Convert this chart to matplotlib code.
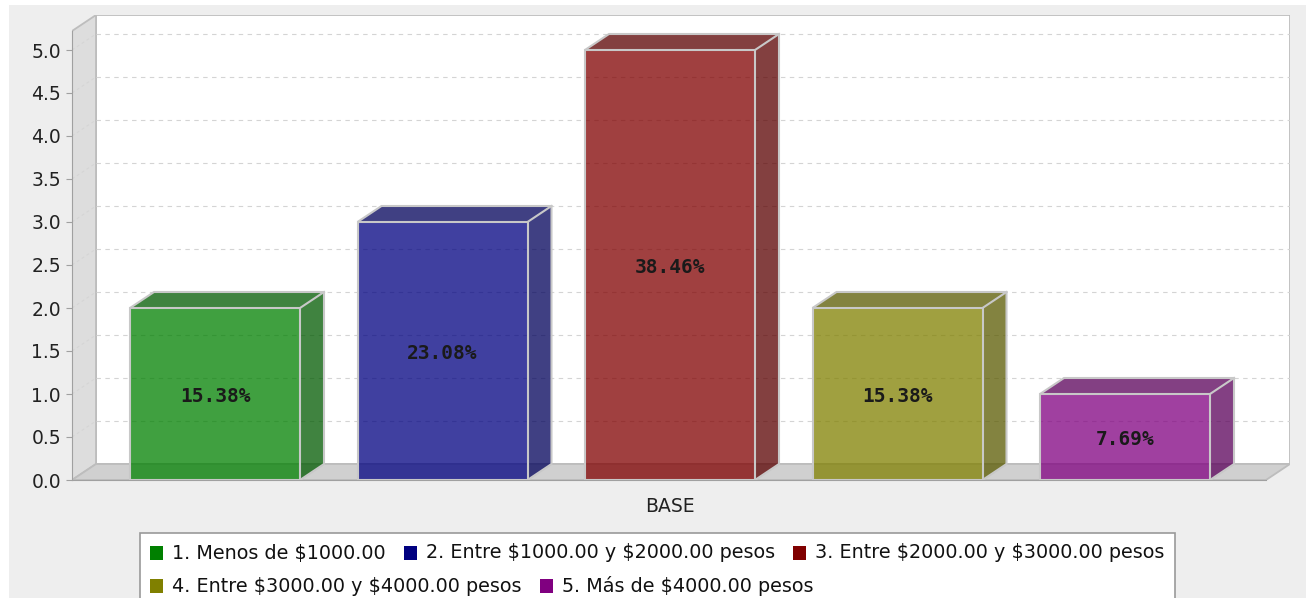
import matplotlib
matplotlib.use("Agg")
import matplotlib.pyplot as plt
from matplotlib.patches import Polygon, Rectangle
from matplotlib.colors import to_rgb

plt.rcParams["text.parse_math"] = False

# Datos del grafico
categoria = "BASE"
series = [
    "1. Menos de $1000.00",
    "2. Entre $1000.00 y $2000.00 pesos",
    "3. Entre $2000.00 y $3000.00 pesos",
    "4. Entre $3000.00 y $4000.00 pesos",
    "5. Más de $4000.00 pesos",
]
valores = [2, 3, 5, 2, 1]
porcentajes = [15.38, 23.08, 38.46, 15.38, 7.69]
colores = ["#008000", "#000080", "#800000", "#808000", "#800080"]
yticks = [0.0, 0.5, 1.0, 1.5, 2.0, 2.5, 3.0, 3.5, 4.0, 4.5, 5.0]

W, H = 1306, 598
fig = plt.figure(figsize=(W / 100, H / 100), dpi=100, facecolor="white")
fig.patches.append(Rectangle((9 / W, 0), 1, (H - 5) / H, transform=fig.transFigure,
                             facecolor="#EEEEEE", edgecolor="none", zorder=-10))

# Ejes: area del grafico en pixeles
left_px, right_px, top_px, bot_px = 72, 1290, 15, 480
ax = fig.add_axes([left_px / W, (H - bot_px) / H, (right_px - left_px) / W, (bot_px - top_px) / H])
ax.set_facecolor("none")

px_x = 227.5   # pixeles por categoria
px_y = 86.0    # pixeles por unidad
x0 = -143 / px_x
x1 = x0 + (right_px - left_px) / px_x
ytop = (bot_px - top_px) / px_y
dx = 24 / px_x
dy = 16 / px_y
ax.set_xlim(x0, x1)
ax.set_ylim(0, ytop)

gris = "#BDBDBD"
# Pared del fondo, pared izquierda y piso
ax.add_patch(Polygon([(x0 + dx, dy), (x0 + dx, ytop), (x1, ytop), (x1, dy)],
                     closed=True, facecolor="white", edgecolor=gris, lw=1.3, zorder=1))
ax.add_patch(Polygon([(x0, 0), (x0 + dx, dy), (x0 + dx, ytop), (x0, ytop - dy)],
                     closed=True, facecolor="#DDDDDD", edgecolor=gris, lw=1.3, zorder=1))
ax.add_patch(Polygon([(x0, 0), (x0 + dx, dy), (x1, dy), (x1 - dx, 0)],
                     closed=True, facecolor="#D0D0D0", edgecolor=gris, lw=1.3, zorder=1))

# Lineas de cuadricula
for v in yticks[1:]:
    ax.plot([x0 + dx, x1], [v + dy, v + dy], color="#D4D4D4", lw=0.8, ls=(0, (4, 4)), zorder=2)
    ax.plot([x0, x0 + dx], [v, v + dy], color="#D4D4D4", lw=0.7, ls=(0, (3, 3)), zorder=2)

# Barras 3D
ancho = 170 / px_x
xs = list(range(len(valores)))
for x, v, c, p in zip(xs, valores, colores, porcentajes):
    r, g, b = to_rgb(c)
    oscuro = (r * 0.7, g * 0.7, b * 0.7)
    ax.bar(x, v, width=ancho, color=c, alpha=0.75, edgecolor="none", zorder=3)
    ax.bar(x, v, width=ancho, color="none", edgecolor="#C8C8C8", lw=1.5, zorder=5)
    xl, xr = x - ancho / 2, x + ancho / 2
    ax.add_patch(Polygon([(xl, v), (xl + dx, v + dy), (xr + dx, v + dy), (xr, v)], closed=True,
                         facecolor=oscuro, alpha=0.75, edgecolor="none", zorder=3))
    ax.add_patch(Polygon([(xr, 0), (xr + dx, dy), (xr + dx, v + dy), (xr, v)], closed=True,
                         facecolor=oscuro, alpha=0.75, edgecolor="none", zorder=3))
    ax.add_patch(Polygon([(xl, v), (xl + dx, v + dy), (xr + dx, v + dy), (xr + dx, dy), (xr, 0)],
                         closed=False, fill=False, edgecolor="#C8C8C8", lw=1.5, zorder=5))
    ax.plot([xr, xr + dx], [v, v + dy], color="#C8C8C8", lw=1.5, zorder=5)
    ax.text(x, v / 2 - 0.03, f"{p:.2f}%", ha="center", va="center", fontsize=14,
            family="DejaVu Sans Mono", weight="bold", color="#1A1A1A", zorder=6)

# Ejes
for s in ["top", "right"]:
    ax.spines[s].set_visible(False)
ax.spines["left"].set_bounds(0, ytop - dy)
ax.spines["left"].set_color("#A0A0A0")
ax.spines["bottom"].set_bounds(x0, x1 - dx)
ax.spines["bottom"].set_color("#A0A0A0")
ax.set_yticks(yticks)
ax.set_yticklabels([f"{v:.1f}" for v in yticks])
ax.tick_params(axis="y", length=4, color="#A0A0A0", labelsize=13.5, labelcolor="#222222", pad=4)
ax.set_xticks([2])
ax.set_xticklabels([categoria])
ax.tick_params(axis="x", length=0, labelsize=13.5, labelcolor="#222222", pad=12)

# Leyenda con distribucion en flujo
fig.patches.append(Rectangle((140 / W, -0.1), (1175 - 140) / W, (H - 533) / H + 0.1,
                             transform=fig.transFigure, facecolor="white",
                             edgecolor="#999999", lw=1.2, zorder=1))
renderer = fig.canvas.get_renderer()
filas = [[0, 1, 2], [3, 4]]
filas_y = [553, 586]
for fila, yc in zip(filas, filas_y):
    xp = 150
    for i in fila:
        fig.patches.append(Rectangle((xp / W, (H - yc - 7) / H), 13 / W, 14 / H,
                                     transform=fig.transFigure, facecolor=colores[i],
                                     edgecolor="none", zorder=2))
        t = fig.text((xp + 22) / W, (H - yc) / H, series[i], ha="left", va="center",
                     fontsize=13.8, color="#111111", zorder=3)
        ancho_t = t.get_window_extent(renderer).width
        xp = xp + 22 + ancho_t + 18

fig.savefig("out.png", dpi=100, facecolor=fig.get_facecolor())
